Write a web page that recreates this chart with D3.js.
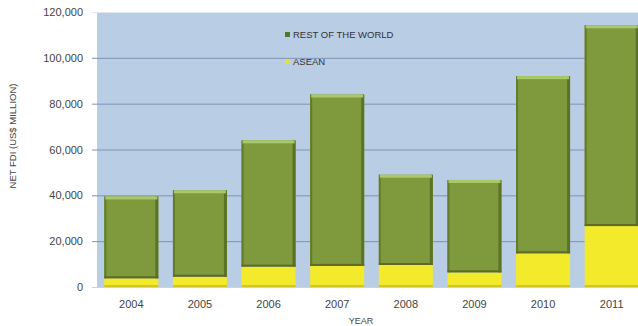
<!DOCTYPE html>
<html><head><meta charset="utf-8">
<script src="https://cdn.jsdelivr.net/npm/d3@7"></script>
<style>html,body{margin:0;padding:0;background:#fff;}svg{display:block;}</style>
</head><body>
<script>
const years = ["2004","2005","2006","2007","2008","2009","2010","2011"];
const asean = [3800, 4500, 8900, 9200, 9600, 6400, 14700, 26600];
const restOfWorld = [35700, 37700, 55100, 74800, 39400, 40300, 77300, 87600];
const yTicks = [0, 20000, 40000, 60000, 80000, 100000, 120000];
const seriesNames = ["REST OF THE WORLD", "ASEAN"];

(function () {
const W = 638, H = 326;
const pL = 97, pR = 646, pT = 12, pB = 287;
const svg = d3.select("body").append("svg").attr("width", W).attr("height", H);
const font = "'Liberation Sans', Arial, sans-serif";

const x = d3.scaleBand().domain(years).range([pL, pR]).paddingInner(0.213).paddingOuter(0.1065);
const y = d3.scaleLinear().domain([0, 120000]).range([pB, pT]);

svg.append("rect").attr("x", pL).attr("y", pT).attr("width", W - pL).attr("height", pB - pT).attr("fill", "#b9cde5");

const yAxis = d3.axisLeft(y).tickValues(yTicks).tickFormat(d3.format(",")).tickSize(-(W - pL + 5)).tickPadding(9);
const ga = svg.append("g").attr("transform", `translate(${pL - 5},0)`).call(yAxis);
ga.select(".domain").remove();
ga.selectAll(".tick line").attr("stroke", d => d === 120000 ? "#dfe6ef" : (d === 0 ? "#c9d3df" : "#7d93b3")).attr("stroke-width", 1);
ga.selectAll(".tick text").attr("fill", "#444").attr("font-family", font).attr("font-size", 11);

const stackData = years.map((yr, i) => ({year: yr, asean: asean[i], rest: restOfWorld[i]}));
const g = svg.append("g");
stackData.forEach(d => {
  const x0 = x(d.year), bw = x.bandwidth();
  const yA = y(d.asean), yT = y(d.asean + d.rest);
  g.append("rect").attr("x", x0).attr("y", yA).attr("width", bw).attr("height", y(0) - yA).attr("fill", "#f3ea2c");
  g.append("rect").attr("x", x0).attr("y", y(0) - 2).attr("width", bw).attr("height", 2).attr("fill", "#cfc62a");
  g.append("rect").attr("x", x0).attr("y", yT).attr("width", bw).attr("height", yA - yT).attr("fill", "#7e9a3c");
  g.append("rect").attr("x", x0).attr("y", yT).attr("width", 2).attr("height", yA - yT).attr("fill", "#627c2a");
  g.append("rect").attr("x", x0 + bw - 3).attr("y", yT).attr("width", 3).attr("height", yA - yT).attr("fill", "#5b7326");
  g.append("rect").attr("x", x0).attr("y", yA - 2).attr("width", bw).attr("height", 2).attr("fill", "#5f6a2a");
  g.append("rect").attr("x", x0 + 1).attr("y", yT).attr("width", bw - 2).attr("height", 3).attr("fill", "#a9c86a");
});

svg.append("g").selectAll("text").data(years).join("text")
  .attr("x", d => x(d) + x.bandwidth() / 2).attr("y", 308)
  .attr("text-anchor", "middle").attr("font-family", font).attr("font-size", 11).attr("fill", "#444")
  .text(d => d);

svg.append("text").attr("x", 361).attr("y", 324).attr("text-anchor", "middle")
  .attr("font-family", font).attr("font-size", 9).attr("fill", "#444").text("YEAR");
svg.append("text").attr("transform", "translate(16,136) rotate(-90)").attr("text-anchor", "middle")
  .attr("font-family", font).attr("font-size", 9.5).attr("fill", "#444").text("NET FDI (US$ MILLION)");

const legColors = ["#4f7a26", "#e8e030"];
const legY = [35, 62];
seriesNames.forEach((n, i) => {
  svg.append("rect").attr("x", 285).attr("y", legY[i] - 3).attr("width", 5).attr("height", 5).attr("fill", legColors[i]);
  svg.append("text").attr("x", 293).attr("y", legY[i] + 3).attr("font-family", font).attr("font-size", 9.5)
    .attr("fill", "#333").text(n);
});
})();
</script>
</body></html>
